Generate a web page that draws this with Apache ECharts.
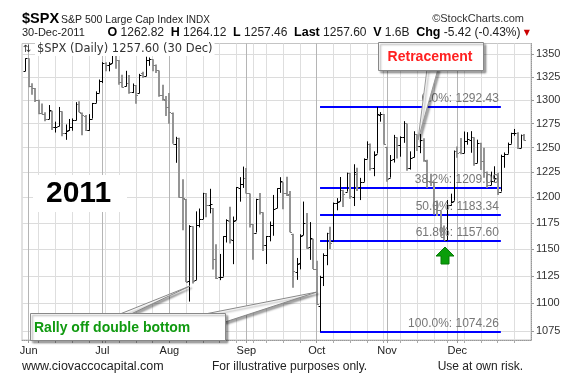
<!DOCTYPE html>
<html><head><meta charset="utf-8">
<script src="https://cdn.jsdelivr.net/npm/echarts@6/dist/echarts.min.js"></script>
<style>html,body{margin:0;padding:0;background:#fff}#c{width:585px;height:385px}</style>
</head><body><div id="c"></div>
<script>
// ---------- DATA ----------
const dates = ['2011-05-31',
'2011-06-01','2011-06-02','2011-06-03','2011-06-06','2011-06-07','2011-06-08','2011-06-09','2011-06-10','2011-06-13','2011-06-14','2011-06-15','2011-06-16','2011-06-17','2011-06-20','2011-06-21','2011-06-22','2011-06-23','2011-06-24','2011-06-27','2011-06-28','2011-06-29','2011-06-30',
'2011-07-01','2011-07-05','2011-07-06','2011-07-07','2011-07-08','2011-07-11','2011-07-12','2011-07-13','2011-07-14','2011-07-15','2011-07-18','2011-07-19','2011-07-20','2011-07-21','2011-07-22','2011-07-25','2011-07-26','2011-07-27','2011-07-28','2011-07-29',
'2011-08-01','2011-08-02','2011-08-03','2011-08-04','2011-08-05','2011-08-08','2011-08-09','2011-08-10','2011-08-11','2011-08-12','2011-08-15','2011-08-16','2011-08-17','2011-08-18','2011-08-19','2011-08-22','2011-08-23','2011-08-24','2011-08-25','2011-08-26','2011-08-29','2011-08-30','2011-08-31',
'2011-09-01','2011-09-02','2011-09-06','2011-09-07','2011-09-08','2011-09-09','2011-09-12','2011-09-13','2011-09-14','2011-09-15','2011-09-16','2011-09-19','2011-09-20','2011-09-21','2011-09-22','2011-09-23','2011-09-26','2011-09-27','2011-09-28','2011-09-29','2011-09-30',
'2011-10-03','2011-10-04','2011-10-05','2011-10-06','2011-10-07','2011-10-10','2011-10-11','2011-10-12','2011-10-13','2011-10-14','2011-10-17','2011-10-18','2011-10-19','2011-10-20','2011-10-21','2011-10-24','2011-10-25','2011-10-26','2011-10-27','2011-10-28','2011-10-31',
'2011-11-01','2011-11-02','2011-11-03','2011-11-04','2011-11-07','2011-11-08','2011-11-09','2011-11-10','2011-11-11','2011-11-14','2011-11-15','2011-11-16','2011-11-17','2011-11-18','2011-11-21','2011-11-22','2011-11-23','2011-11-25','2011-11-28','2011-11-29','2011-11-30',
'2011-12-01','2011-12-02','2011-12-05','2011-12-06','2011-12-07','2011-12-08','2011-12-09','2011-12-12','2011-12-13','2011-12-14','2011-12-15','2011-12-16','2011-12-19','2011-12-20','2011-12-21','2011-12-22','2011-12-23','2011-12-27','2011-12-28','2011-12-29','2011-12-30'];

const opens = [1331.10,
1345.20,1314.55,1312.94,1300.26,1286.31,1284.63,1279.63,1288.60,1271.31,1272.22,1287.87,1265.53,1268.58,1271.50,1278.40,1295.48,1286.60,1283.04,1268.44,1280.21,1296.85,1307.64,
1320.64,1339.59,1337.56,1339.62,1352.39,1343.31,1319.61,1314.45,1317.74,1308.87,1315.94,1307.07,1328.66,1325.65,1343.80,1344.32,1337.39,1331.91,1304.84,1300.12,
1292.59,1286.56,1254.25,1260.23,1200.28,1198.48,1120.23,1171.77,1121.30,1172.87,1178.86,1204.22,1192.89,1189.62,1140.47,1123.55,1124.36,1162.16,1176.69,1158.85,1177.91,1209.76,1213.00,
1219.12,1203.90,1173.97,1165.85,1197.98,1185.37,1153.50,1162.59,1173.32,1189.44,1209.21,1214.99,1204.50,1203.63,1164.55,1128.82,1136.91,1163.32,1175.39,1151.74,1159.93,
1131.21,1097.42,1124.03,1144.11,1165.03,1158.15,1194.60,1196.19,1206.96,1205.65,1224.47,1200.75,1223.46,1209.92,1215.39,1238.72,1254.19,1229.17,1243.97,1284.39,1284.96,
1251.00,1219.62,1238.25,1260.82,1253.21,1261.12,1275.18,1229.59,1240.12,1263.85,1251.70,1257.81,1236.56,1216.19,1215.62,1192.98,1187.48,1161.41,1158.67,1192.56,1196.72,
1246.91,1246.03,1244.33,1257.19,1258.14,1260.87,1234.48,1255.05,1236.83,1225.73,1212.12,1216.09,1219.74,1205.72,1241.25,1243.72,1254.00,1265.02,1265.38,1249.75,1262.82];

const highs = [1345.20,
1345.20,1318.03,1312.94,1300.26,1296.22,1287.04,1294.54,1288.60,1277.04,1292.50,1287.87,1274.11,1279.82,1280.42,1297.62,1298.61,1286.60,1283.93,1284.91,1296.80,1309.21,1321.97,
1341.01,1340.89,1340.94,1356.48,1352.39,1343.31,1327.17,1331.48,1326.88,1317.70,1315.94,1328.14,1330.43,1347.00,1346.10,1344.32,1338.51,1331.91,1316.32,1304.16,
1307.38,1286.56,1261.20,1260.23,1218.11,1198.48,1172.88,1171.77,1186.29,1189.04,1204.49,1204.22,1208.47,1189.62,1154.54,1145.49,1162.35,1178.56,1190.68,1181.23,1210.28,1220.10,1230.71,
1229.29,1203.90,1173.97,1198.62,1204.40,1185.37,1162.52,1176.41,1202.38,1209.11,1220.06,1214.99,1220.39,1206.30,1164.55,1141.72,1164.19,1195.86,1184.71,1175.87,1159.93,
1138.99,1125.12,1146.07,1165.55,1171.40,1194.91,1199.24,1220.25,1207.46,1224.61,1224.47,1233.10,1229.64,1219.36,1239.03,1256.55,1254.19,1246.28,1292.66,1287.08,1284.96,
1251.00,1242.48,1263.21,1260.82,1261.70,1277.55,1275.18,1246.22,1266.98,1263.85,1264.25,1259.61,1237.73,1223.51,1215.62,1196.81,1187.48,1172.66,1197.35,1203.67,1247.11,
1251.09,1260.08,1266.73,1266.03,1267.06,1260.87,1258.25,1255.05,1249.86,1225.73,1225.60,1231.04,1224.57,1242.82,1245.09,1255.22,1265.42,1269.37,1265.85,1263.54,1264.12];

const lows = [1331.10,
1313.71,1305.61,1297.90,1284.72,1284.74,1277.42,1279.63,1268.28,1265.64,1272.22,1261.90,1258.07,1267.40,1267.56,1278.40,1286.79,1262.87,1267.24,1267.53,1280.21,1296.85,1307.64,
1318.18,1330.92,1330.92,1339.62,1333.71,1316.42,1313.33,1314.45,1306.51,1307.35,1295.92,1307.07,1323.65,1325.65,1336.95,1331.09,1329.10,1303.49,1299.16,1282.86,
1274.73,1254.03,1234.56,1199.54,1168.09,1119.28,1101.54,1118.01,1121.30,1170.74,1178.86,1180.53,1184.36,1131.03,1122.05,1121.09,1124.36,1156.30,1155.47,1135.91,1177.91,1195.77,1209.35,
1203.85,1170.56,1140.13,1165.85,1183.34,1148.37,1136.07,1157.44,1162.73,1189.44,1204.46,1188.36,1201.29,1166.21,1114.22,1121.36,1131.07,1163.32,1150.40,1139.93,1131.34,
1098.92,1074.77,1115.68,1134.95,1150.26,1158.15,1187.30,1196.19,1190.58,1205.65,1198.55,1191.48,1206.31,1197.34,1215.39,1238.72,1226.79,1221.06,1243.97,1277.01,1253.16,
1215.42,1219.62,1234.81,1238.92,1240.75,1254.99,1226.64,1227.70,1240.12,1246.68,1244.34,1235.67,1209.43,1211.36,1183.16,1181.65,1161.79,1158.66,1158.67,1191.80,1196.72,
1239.73,1243.35,1244.33,1253.03,1244.80,1231.47,1234.48,1227.25,1219.43,1209.47,1212.12,1215.20,1202.37,1205.72,1229.51,1243.72,1254.00,1262.30,1248.64,1249.75,1257.46];

const closes = [1345.20,
1314.55,1312.94,1300.16,1286.17,1284.94,1279.56,1289.00,1270.98,1271.83,1287.87,1265.42,1267.64,1271.50,1278.36,1295.52,1287.14,1283.50,1268.45,1280.10,1296.67,1307.41,1320.64,
1339.67,1337.88,1339.22,1353.22,1343.80,1319.49,1313.64,1317.72,1308.87,1316.14,1305.44,1326.73,1325.84,1343.80,1345.02,1337.43,1331.94,1304.89,1300.67,1292.28,
1286.94,1254.05,1260.34,1200.07,1199.38,1119.46,1172.53,1120.76,1172.64,1178.81,1204.49,1192.76,1193.89,1140.65,1123.53,1123.82,1162.35,1177.60,1159.27,1176.80,1210.08,1212.92,1218.89,
1204.42,1173.97,1165.24,1198.62,1185.90,1154.23,1162.27,1172.87,1188.68,1209.11,1216.01,1204.09,1202.09,1166.76,1129.56,1136.43,1162.95,1175.38,1151.06,1160.40,1131.42,
1099.23,1123.95,1144.03,1164.97,1155.46,1194.89,1195.54,1207.25,1203.66,1224.58,1200.86,1225.38,1209.88,1215.39,1238.25,1254.19,1229.05,1242.00,1284.59,1285.09,1253.30,
1218.28,1237.90,1261.15,1253.23,1261.12,1275.92,1229.10,1239.69,1263.85,1251.78,1257.81,1236.91,1216.13,1215.65,1192.98,1188.04,1161.79,1158.67,1192.55,1195.19,1246.96,
1244.58,1244.28,1257.08,1258.47,1261.01,1234.35,1255.19,1236.47,1225.73,1211.82,1215.75,1219.66,1205.35,1241.30,1243.72,1254.00,1265.33,1265.43,1249.64,1263.02,1257.60];

const prevClose = 1331.10;
const yTicks = [1075,1100,1125,1150,1175,1200,1225,1250,1275,1300,1325,1350];
const yMin = 1067.3, yMax = 1361.7;
const fibPct = ['0.0%','38.2%','50.0%','61.8%','100.0%'];
const fibVal = [1292.43,1209.09,1183.34,1157.60,1074.26];
const fibStart = '2011-10-04', fibEnd = '2011-12-20';
const monthNames = ['Jan','Feb','Mar','Apr','May','Jun','Jul','Aug','Sep','Oct','Nov','Dec'];

// ---------- BUILD ----------
const FONT = '"Liberation Sans", Arial, Helvetica, sans-serif';
const categories = [''].concat(dates, ['', '']);
const ln = Math.log;
const ohlc = dates.map((d, i) => {
  const pc = i ? closes[i - 1] : prevClose;
  return [i + 1, ln(opens[i]), ln(closes[i]), ln(lows[i]), ln(highs[i]), closes[i] >= pc ? 1 : 0];
});
function isMonthStart(idx) {
  const d = categories[idx];
  if (!d || idx < 2) return false;
  const p = categories[idx - 1];
  return !p || p.slice(5, 7) !== d.slice(5, 7);
}
function isWeekStart(idx) {
  const d = categories[idx];
  if (!d || idx < 3 || isMonthStart(idx)) return false;
  const p = categories[idx - 1];
  const dd = new Date(d), pd = new Date(p);
  return dd.getUTCDay() < pd.getUTCDay() || (dd - pd) >= 7 * 864e5;
}
function renderBar(params, api) {
  const x = api.value(0);
  const pO = api.coord([x, api.value(1)]);
  const pC = api.coord([x, api.value(2)]);
  const pL = api.coord([x, api.value(3)]);
  const pH = api.coord([x, api.value(4)]);
  const up = api.value(5);
  const band = api.size([1, 0])[0];
  const t = Math.max(1.5, band * 0.6);
  const cx = up ? Math.round(pH[0]) + 0.5 : Math.round(pH[0]);
  const yo = Math.round(pO[1]) + 0.5, yc = Math.round(pC[1]) + 0.5;
  const style = { stroke: up ? '#000' : '#959595', lineWidth: up ? 1 : 2 };
  const tick = { stroke: up ? '#000' : '#808080', lineWidth: 1 };
  return { type: 'group', children: [
    { type: 'line', shape: { x1: cx, y1: pH[1], x2: cx, y2: pL[1] }, style },
    { type: 'line', shape: { x1: cx - t, y1: yo, x2: cx, y2: yo }, style: tick },
    { type: 'line', shape: { x1: cx, y1: yc, x2: cx + t, y2: yc }, style: tick }
  ]};
}
const startIdx = categories.indexOf(fibStart), endIdx = categories.indexOf(fibEnd);
const fibLines = fibVal.map((v, k) => [
  { coord: [startIdx, ln(v)], label: { formatter: fibPct[k] + ': ' + v.toFixed(2) } },
  { coord: [endIdx, ln(v)] }
]);

const shadow = { shadowBlur: 2, shadowOffsetX: 2, shadowOffsetY: 2, shadowColor: 'rgba(0,0,0,0.35)' };
const Z = 100;
const graphics = [
  { type: 'text', x: 22, y: 19, z: Z, style: { text: '$SPX', font: 'bold 14.5px ' + FONT, fill: '#000', verticalAlign: 'middle' } },
  { type: 'text', x: 61, y: 20, z: Z, style: { text: 'S&P 500 Large Cap Index', font: '10.5px ' + FONT, fill: '#222', verticalAlign: 'middle' } },
  { type: 'text', x: 186, y: 20, z: Z, style: { text: 'INDX', font: '10px ' + FONT, fill: '#222', verticalAlign: 'middle' } },
  { type: 'text', x: 524, y: 19, z: Z, style: { text: '\u00A9StockCharts.com', font: '11px ' + FONT, fill: '#333', align: 'right', verticalAlign: 'middle' } },
  { type: 'text', x: 22, y: 33, z: Z, style: { text: '30-Dec-2011', font: '11px ' + FONT, fill: '#222', verticalAlign: 'middle' } },
  { type: 'text', x: 530, y: 33, z: Z, style: {
      text: '{b|O} 1262.82  {b|H} 1264.12  {b|L} 1257.46  {b|Last} 1257.60  {b|V} 1.6B  {b|Chg} -5.42 (-0.43%) {r|\u25BC}',
      font: '12px ' + FONT, fill: '#222', align: 'right', verticalAlign: 'middle',
      rich: { b: { fontWeight: 'bold', fontSize: 12.5, fontFamily: FONT, fill: '#000' }, r: { fontSize: 8, fill: '#cc0000', fontFamily: 'DejaVu Sans' } } } },
  { type: 'text', x: 23, y: 49, z: Z, style: { text: '\u21C5', font: '10px "DejaVu Sans"', fill: '#333', verticalAlign: 'middle' } },
  { type: 'text', x: 35, y: 49, z: Z, style: { text: '$SPX (Daily) 1257.60 (30 Dec)', font: '11.5px "DejaVu Sans"', fill: '#333', verticalAlign: 'middle', backgroundColor: '#fff', padding: [1, 2] } },
  // 2011
  { type: 'rect', z: Z, shape: { x: 33, y: 175, width: 94, height: 37 }, style: { fill: '#fff' } },
  { type: 'text', x: 46, y: 194, z: Z, style: { text: '2011', font: 'bold 30px ' + FONT, fill: '#000', verticalAlign: 'middle' } },
  // Rally callout
  { type: 'polygon', z: Z, shape: { points: [[120, 314], [190, 286], [131, 314]] }, style: Object.assign({ fill: '#fff', stroke: '#888', lineWidth: 1 }, shadow) },
  { type: 'polygon', z: Z, shape: { points: [[205, 314], [317, 292], [225, 322]] }, style: Object.assign({ fill: '#fff', stroke: '#888', lineWidth: 1 }, shadow) },
  { type: 'rect', z: Z + 1, shape: { x: 30.5, y: 313.5, width: 195, height: 27 }, style: Object.assign({ fill: '#fff', stroke: '#888', lineWidth: 1 }, shadow) },
  { type: 'text', x: 34, y: 328, z: Z + 2, style: { text: 'Rally off double bottom', font: 'bold 14px ' + FONT, fill: '#109a10', verticalAlign: 'middle' } },
  // Retracement callout
  { type: 'polygon', z: Z, shape: { points: [[427, 69], [418, 140], [438, 69]] }, style: Object.assign({ fill: '#fff', stroke: '#999', lineWidth: 1 }, shadow) },
  { type: 'rect', z: Z + 1, shape: { x: 378.5, y: 42.5, width: 105, height: 28 }, style: Object.assign({ fill: '#fff', stroke: '#888', lineWidth: 1 }, shadow) },
  { type: 'text', x: 430, y: 57, z: Z + 2, style: { text: 'Retracement', font: 'bold 14px ' + FONT, fill: '#ff2020', align: 'center', verticalAlign: 'middle' } },
  // green arrow
  { type: 'polygon', z: Z, shape: { points: [[445, 247], [454, 256], [449, 256], [449, 264], [441, 264], [441, 256], [436, 256]] }, style: { fill: '#0a9e0a', stroke: '#067a06', lineWidth: 1 } },
  // footer
  { type: 'text', x: 22, y: 367, z: Z, style: { text: 'www.ciovaccocapital.com', font: '12.5px ' + FONT, fill: '#222', verticalAlign: 'middle' } },
  { type: 'text', x: 212, y: 367, z: Z, style: { text: 'For illustrative purposes only.', font: '12px ' + FONT, fill: '#222', verticalAlign: 'middle' } },
  { type: 'text', x: 523, y: 367, z: Z, style: { text: 'Use at own risk.', font: '12px ' + FONT, fill: '#222', align: 'right', verticalAlign: 'middle' } }
];

const chart = echarts.init(document.getElementById('c'));
chart.setOption({
  animation: false,
  backgroundColor: '#fff',
  grid: { left: 22, right: 54, top: 43.5, bottom: 45, show: true, borderColor: '#c4c4c4', borderWidth: 1, containLabel: false },
  xAxis: [{
    type: 'category', data: categories, boundaryGap: false,
    axisLine: { show: true, lineStyle: { color: '#999', type: 'dotted' } },
    axisTick: { show: true, interval: isWeekStart, length: 3, lineStyle: { color: '#aaa' } },
    axisLabel: { show: false },
    splitLine: { show: true, interval: isWeekStart, lineStyle: { color: '#dedede' } }
  }, {
    type: 'category', data: categories, boundaryGap: false, position: 'bottom',
    axisLine: { show: false }, axisTick: { show: true, interval: isMonthStart, length: 3, lineStyle: { color: '#999' } },
    axisLabel: { show: true, interval: isMonthStart, formatter: v => v ? monthNames[+v.slice(5, 7) - 1] : '', color: '#222', fontSize: 11, fontFamily: FONT, margin: 5 },
    splitLine: { show: true, interval: isMonthStart, lineStyle: { color: '#b5b5b5' } }
  }],
  yAxis: {
    type: 'value', position: 'right', min: ln(yMin), max: ln(yMax),
    axisLine: { show: true, lineStyle: { color: '#999', type: 'dotted' } },
    axisTick: { show: true, customValues: yTicks.map(ln), length: 3, lineStyle: { color: '#999' } },
    axisLabel: { customValues: yTicks.map(ln), formatter: v => String(Math.round(Math.exp(v))), color: '#333', fontSize: 11, fontFamily: FONT, margin: 5 },
    splitLine: { show: true, lineStyle: { color: '#dcdcdc' } }
  },
  series: [{
    type: 'custom', name: '$SPX', xAxisIndex: 0, renderItem: renderBar, data: ohlc,
    encode: { x: 0, y: [1, 2, 3, 4] }, clip: true, z: 5,
    markLine: {
      silent: true, symbol: 'none', animation: false,
      lineStyle: { color: '#0000ff', width: 2, type: 'solid' },
      label: { position: 'insideEndTop', color: '#777', fontSize: 12, fontFamily: FONT, distance: 2 },
      data: fibLines
    }
  }],
  graphic: { elements: graphics }
});
</script></body></html>
